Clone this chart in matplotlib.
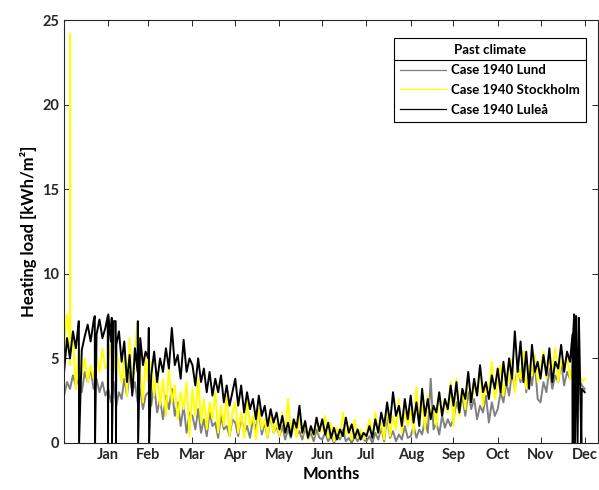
import numpy as np
import matplotlib
matplotlib.use("Agg")
import matplotlib.pyplot as plt
from matplotlib.lines import Line2D

plt.rcParams['font.family'] = ['Lato', 'DejaVu Sans']
plt.rcParams['font.weight'] = 'bold'

months = ["Jan", "Feb", "Mar", "Apr", "May", "Jun",
          "Jul", "Aug", "Sep", "Oct", "Nov", "Dec"]
month_days = [31, 28, 31, 30, 31, 30, 31, 31, 30, 31, 30, 31]

# heating load, 15 values per month [kWh/m2]
lund = [
    2.8, 3.6, 3.2, 4.0, 3.4, 3.8, 3.0, 4.2, 3.6, 4.4, 3.2, 3.8, 3.0, 3.6, 2.8,  # Jan
    3.2, 2.4, 3.6, 2.2, 3.0, 2.6, 3.8, 2.8, 4.2, 3.0, 3.6, 2.4, 3.2, 2.0, 2.8,  # Feb
    3.0, 2.2, 3.4, 1.8, 2.6, 1.4, 2.8, 2.0, 3.2, 1.6, 2.4, 1.0, 2.2, 0.6, 1.8,  # Mar
    1.6, 0.8, 2.0, 0.6, 1.4, 0.4, 1.8, 1.0, 1.2, 0.3, 1.6, 0.8, 1.0, 0.4, 1.4,  # Apr
    1.2, 0.4, 1.6, 0.6, 1.0, 0.3, 1.4, 0.8, 2.0, 0.5, 1.2, 0.3, 1.8, 0.6, 1.0,  # May
    0.4, 1.0, 0.2, 0.8, 0.3, 1.2, 0.5, 0.7, 0.2, 0.9, 0.3, 0.6, 0.1, 0.8, 0.3,  # Jun
    0.2, 0.6, 0.1, 0.4, 0.0, 0.5, 0.2, 0.8, 0.1, 0.3, 0.0, 0.4, 0.1, 0.6, 0.2,  # Jul
    0.1, 0.4, 0.0, 0.6, 0.2, 0.9, 0.1, 1.6, 0.3, 0.7, 0.1, 0.5, 0.2, 1.0, 0.3,  # Aug
    0.4, 1.0, 0.3, 0.8, 0.5, 1.4, 0.6, 3.8, 0.8, 1.2, 0.5, 1.6, 0.9, 1.4, 1.0,  # Sep
    1.4, 2.4, 1.8, 2.8, 1.6, 3.0, 2.0, 2.6, 1.4, 2.2, 1.8, 2.8, 1.2, 2.4, 1.6,  # Oct
    2.0, 3.0, 2.4, 3.6, 2.8, 4.2, 3.2, 4.6, 3.6, 5.4, 3.0, 4.4, 3.4, 4.8, 2.6,  # Nov
    2.4, 3.6, 3.0, 4.4, 3.2, 4.0, 3.6, 4.8, 3.4, 4.2, 3.8, 4.6, 3.2, 4.0, 3.4,  # Dec
]
stockholm = [
    5.8, 7.6, 4.6, 6.2, 3.2, 5.4, 4.0, 5.0, 3.6, 4.6, 3.8, 5.2, 4.2, 5.6, 4.4,
    4.8, 5.8, 4.2, 5.4, 4.6, 3.6, 5.0, 2.8, 6.2, 3.4, 5.6, 7.1, 4.0, 2.4, 5.0,
    3.6, 4.8, 2.8, 4.2, 2.2, 3.8, 1.6, 4.4, 2.4, 3.4, 1.4, 3.0, 2.0, 3.6, 0.4,
    3.2, 1.6, 3.8, 1.2, 2.6, 0.8, 2.4, 1.4, 3.0, 0.6, 2.2, 1.0, 2.8, 0.4, 1.8,
    2.4, 0.6, 1.8, 0.3, 2.6, 1.0, 1.6, 0.2, 2.0, 0.8, 1.4, 0.3, 1.8, 0.6, 1.2,
    0.4, 1.8, 0.6, 2.6, 0.8, 1.4, 0.3, 1.6, 0.5, 1.2, 0.2, 0.9, 0.4, 1.4, 0.6,
    0.8, 1.6, 0.3, 1.2, 0.1, 0.9, 0.4, 1.8, 0.5, 1.0, 0.2, 1.4, 0.3, 0.8, 0.2,
    0.6, 1.4, 0.3, 1.8, 0.5, 1.2, 0.2, 2.2, 0.4, 1.6, 0.8, 2.6, 0.6, 1.8, 1.0,
    2.0, 0.6, 3.3, 1.2, 2.4, 0.8, 2.8, 1.4, 2.2, 1.0, 3.0, 1.6, 2.6, 1.8, 3.6,
    1.0, 3.8, 1.6, 3.2, 2.0, 4.0, 2.4, 3.4, 2.8, 4.4, 2.2, 3.6, 3.0, 4.8, 2.6,
    3.4, 4.6, 2.8, 4.0, 3.6, 5.0, 3.0, 4.4, 3.8, 5.4, 3.2, 4.6, 4.0, 5.2, 3.6,
    4.4, 5.4, 3.8, 5.0, 4.2, 5.6, 3.6, 4.8, 4.4, 5.2, 3.8, 4.6, 3.4, 4.2, 3.6,
]
lulea = [
    4.2, 6.2, 5.0, 6.6, 5.6, 6.9, 5.5, 6.3, 7.0, 6.0, 7.2, 6.4, 7.3, 6.2, 6.8,
    7.6, 6.0, 7.2, 5.8, 6.6, 4.8, 6.0, 3.6, 5.2, 2.8, 5.6, 4.2, 6.2, 4.6, 5.4,
    5.0, 4.0, 5.4, 3.6, 5.0, 4.2, 5.6, 4.4, 6.8, 4.6, 5.2, 3.8, 6.1, 4.2, 5.0,
    4.6, 3.4, 5.0, 3.6, 4.4, 3.0, 4.2, 2.8, 3.8, 3.0, 4.0, 2.4, 3.4, 2.2, 3.0,
    3.8, 2.2, 3.4, 1.8, 3.0, 2.0, 2.6, 1.4, 2.8, 1.6, 2.2, 1.0, 2.0, 1.2, 1.8,
    0.8, 1.6, 0.6, 1.2, 0.4, 1.4, 0.9, 2.2, 0.6, 1.3, 0.3, 1.0, 0.5, 1.5, 0.7,
    1.4, 0.5, 1.2, 0.3, 0.9, 0.2, 0.8, 0.4, 1.5, 0.6, 1.1, 0.3, 0.8, 0.2, 0.6,
    0.4, 1.0, 0.3, 1.4, 0.6, 1.8, 1.0, 2.4, 1.2, 3.0, 1.6, 2.2, 1.0, 2.6, 1.4,
    2.8, 1.2, 2.4, 1.0, 3.2, 1.6, 2.6, 1.4, 2.2, 1.8, 3.0, 1.6, 2.6, 2.0, 3.4,
    2.2, 3.6, 1.8, 3.2, 2.6, 4.2, 2.4, 3.8, 2.8, 4.6, 3.0, 3.6, 2.6, 4.0, 3.2,
    4.4, 3.0, 4.8, 3.4, 5.0, 3.8, 6.6, 4.2, 6.0, 3.6, 5.4, 3.2, 5.8, 4.2, 4.8,
    3.8, 5.2, 4.0, 5.6, 3.6, 4.8, 4.4, 5.8, 4.2, 5.4, 4.8, 6.2, 5.6, 7.4, 3.2,
]

# short events (day of year, value): spikes and drops to zero
lund_extra_day = [365.0]
lund_extra_val = [3.2]
sto_extra_day = [4.0, 4.2, 4.4, 365.0]
sto_extra_val = [6.0, 24.2, 6.0, 3.8]
lul_extra_day = [10.3, 10.5, 21.5, 21.7, 30.6, 30.8, 33.4, 33.6, 36.2, 36.4,
                 51.7, 51.9, 59.4, 59.6, 356.4, 356.6, 357.6, 358.2, 359.0,
                 360.0, 361.0, 362.6, 365.0]
lul_extra_val = [7.2, 0.0, 7.5, 0.0, 7.5, 0.0, 7.4, 0.0, 7.2, 0.0,
                 7.2, 0.0, 6.8, 0.0, 6.4, 0.0, 7.6, 0.0, 7.5,
                 0.0, 7.0, 0.0, 3.0]


def series_hours(vals, extra_day, extra_val):
    days = []
    start = 0
    for n in month_days:
        days += [start + i * n / 15 for i in range(15)]
        start += n
    d = np.array(days + extra_day)
    v = np.array(vals + extra_val)
    order = np.argsort(d, kind="stable")
    return d[order] * 24, v[order]


fig, ax = plt.subplots(figsize=(5.99, 4.9), dpi=100)
fig.subplots_adjust(left=0.107, right=0.998, bottom=0.096, top=0.959)

h, v = series_hours(lund, lund_extra_day, lund_extra_val)
ax.plot(h, v, color='#808080', lw=1.4, label='Case 1940 Lund')
h, v = series_hours(stockholm, sto_extra_day, sto_extra_val)
ax.plot(h, v, color='#ffff00', lw=1.4, label='Case 1940 Stockholm')
h, v = series_hours(lulea, lul_extra_day, lul_extra_val)
ax.plot(h, v, color='black', lw=1.4, label='Case 1940 Luleå')

month_end_hours = np.cumsum(month_days) * 24
ax.set_xticks(month_end_hours)
ax.set_xticklabels(months)
ax.set_xlim(0, 8980)
ax.set_ylim(0, 25)
ax.set_yticks([0, 5, 10, 15, 20, 25])
ax.tick_params(direction='in', top=True, right=True, length=4,
               labelsize=10.5, colors='#262626', width=0.7)
for s in ax.spines.values():
    s.set_color('#262626')
    s.set_linewidth(0.8)

ax.set_xlabel('Months', fontsize=12, fontweight='bold', labelpad=3)
ax.set_ylabel('Heating load [kWh/m²]', fontsize=12, fontweight='bold')

leg = ax.legend(title='Past climate', loc='upper right',
                bbox_to_anchor=(0.9775, 0.957), borderaxespad=0,
                fontsize=9.5, title_fontsize=9.5, fancybox=False,
                framealpha=1, edgecolor='black', handlelength=3.5,
                borderpad=0.45, labelspacing=0.6, handletextpad=0.4)
leg.get_frame().set_linewidth(0.8)
leg.get_title().set_fontweight('bold')
for ln in leg.legend_handles:
    ln.set_linewidth(0.9)

# separator line under the legend title
fig.canvas.draw()
inv = fig.transFigure.inverted()
bb = leg.get_frame().get_window_extent()
tb = leg.get_title().get_window_extent()
first = leg.get_texts()[0].get_window_extent()
y_line = (tb.y0 + first.y1) / 2
(x0, y0), (x1, _) = inv.transform([(bb.x0, y_line), (bb.x1, y_line)])
fig.add_artist(Line2D([x0, x1], [y0, y0], transform=fig.transFigure,
                      color='black', lw=0.8))

fig.savefig('out.png', dpi=100)
